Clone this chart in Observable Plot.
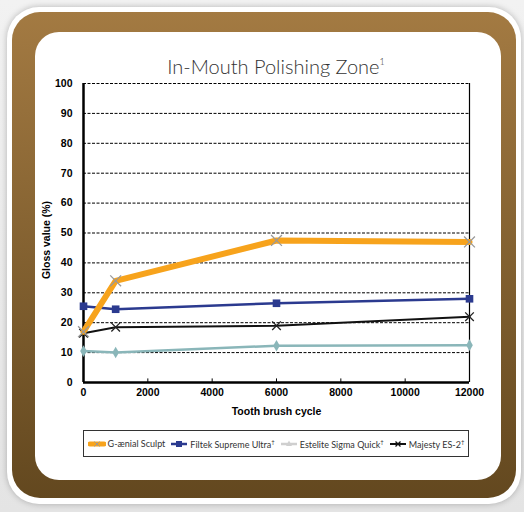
<!DOCTYPE html>
<html>
<head>
<meta charset="utf-8">
<script src="https://cdn.jsdelivr.net/npm/d3@7"></script>
<script src="https://cdn.jsdelivr.net/npm/@observablehq/plot@0.6"></script>
<style>
  html, body { margin: 0; padding: 0; background: #e9e9e9; }
  #wrap { position: relative; width: 524px; height: 512px; overflow: hidden; background: linear-gradient(#f2f2f2, #e4e4e4); }
  .outer { position: absolute; left: 7px; top: 7px; width: 514px; height: 497px; background: #fff; border-radius: 32px; box-shadow: 0 0 6px rgba(0,0,0,0.25); }
  .brown { position: absolute; left: 12px; top: 12px; width: 504px; height: 486px; border-radius: 28px; background: linear-gradient(#a37a42, #63481f); }
  .inner { position: absolute; left: 35px; top: 32px; width: 466px; height: 448px; border-radius: 24px; background: #fff; }
  #chart { position: absolute; left: 0; top: 0; }
  .title { position: absolute; left: 0; width: 552px; top: 54px; text-align: center; font-family: "Lato", "Open Sans", sans-serif; font-weight: 300; font-size: 20px; color: #333; }
  .title sup { font-size: 9px; vertical-align: 9px; }
  .ylabel { position: absolute; left: 46px; top: 240px; transform: translate(-50%, -50%) rotate(-90deg); font-family: "Liberation Sans", Arial, sans-serif; font-weight: bold; font-size: 10.5px; white-space: nowrap; color: #000; }
  .legend { position: absolute; left: 83px; top: 430px; width: 384px; height: 25px; border: 1.5px solid #333; box-sizing: content-box; display: flex; align-items: center; justify-content: center; gap: 5px; font-family: "Lato", "Open Sans", sans-serif; font-size: 9px; color: #333; }
  .legend .item { display: flex; align-items: center; gap: 2px; white-space: nowrap; }
  .legend sup { font-size: 6px; vertical-align: 4px; }
</style>
</head>
<body>
<div id="wrap">
  <div class="outer"></div>
  <div class="brown"></div>
  <div class="inner"></div>
  <div id="chart"></div>
  <div class="title">In-Mouth Polishing Zone<sup>1</sup></div>
  <div class="ylabel">Gloss value (%)</div>
  <div class="legend" id="legend"></div>
</div>
<script>
// ---- data ----
const cycles = [0, 1000, 6000, 12000];
const seriesNames = ["G-ænial Sculpt", "Filtek Supreme Ultra", "Estelite Sigma Quick", "Majesty ES-2"];
const seriesDagger = [false, true, true, true];
const gaenialValues = [17, 34, 47.5, 47];
const filtekValues = [25.5, 24.5, 26.5, 28];
const esteliteValues = [10.5, 10, 12.3, 12.5];
const majestyValues = [16.5, 18.5, 19, 22];
const xTicks = [0, 2000, 4000, 6000, 8000, 10000, 12000];
const yTicks = [0, 10, 20, 30, 40, 50, 60, 70, 80, 90, 100];
const gridTicks = [10, 20, 30, 40, 50, 60, 70, 80, 90, 100];

const lineColors = ["#f7a31c", "#2b3a8f", "#8ab6b9", "#111111"];
const legendColors = ["#f7a31c", "#2b3a8f", "#cfcfcf", "#111111"];

const allValues = [gaenialValues, filtekValues, esteliteValues, majestyValues];
const rows = (i) => cycles.map((c, j) => ({cycle: c, value: allValues[i][j], series: seriesNames[i]}));

const chart = Plot.plot({
  width: 524,
  height: 512,
  marginLeft: 83,
  marginRight: 55,
  marginTop: 83,
  marginBottom: 130,
  style: {background: "transparent", fontFamily: "'Liberation Sans', Arial, sans-serif", fontSize: "10.5px", fontWeight: "bold", color: "#000"},
  x: {domain: [0, 12000]},
  y: {domain: [0, 100]},
  marks: [
    Plot.ruleY(gridTicks, {stroke: "#000", strokeWidth: 1, strokeDasharray: "3,1.5"}),
    Plot.ruleX([12000], {stroke: "#000", strokeWidth: 1.2}),
    Plot.ruleX(xTicks.slice(1, -1), {y1: 0, y2: 1.2, stroke: "#000", strokeWidth: 1}),
    Plot.ruleX([0], {stroke: "#000", strokeWidth: 2.5}),
    Plot.ruleY([0], {stroke: "#000", strokeWidth: 2.5}),
    Plot.axisX({ticks: xTicks, tickFormat: d => String(d), tickSize: 0, tickPadding: 6, label: "Tooth brush cycle", labelAnchor: "center", labelArrow: false, labelOffset: 32, fontWeight: "bold"}),
    Plot.axisY({ticks: yTicks, tickFormat: d => String(d), tickSize: 0, tickPadding: 11, label: null, fontWeight: "bold"}),
    // Estelite
    Plot.line(rows(2), {x: "cycle", y: "value", stroke: lineColors[2], strokeWidth: 2.5}),
    Plot.dot(rows(2), {x: "cycle", y: "value", symbol: "diamond", r: 3.5, fill: lineColors[2]}),
    // Majesty
    Plot.line(rows(3), {x: "cycle", y: "value", stroke: lineColors[3], strokeWidth: 2}),
    Plot.dot(rows(3), {x: "cycle", y: "value", symbol: "times", r: 4, stroke: "#222", strokeWidth: 1.3}),
    // Filtek
    Plot.line(rows(1), {x: "cycle", y: "value", stroke: lineColors[1], strokeWidth: 2.5}),
    Plot.dot(rows(1), {x: "cycle", y: "value", symbol: "square", r: 4.3, fill: lineColors[1]}),
    // G-aenial
    Plot.line(rows(0), {x: "cycle", y: "value", stroke: lineColors[0], strokeWidth: 6}),
    Plot.dot(rows(0), {x: "cycle", y: "value", symbol: "times", r: 5, stroke: "#999", strokeWidth: 1.3})
  ]
});
document.getElementById("chart").appendChild(chart);

// ---- legend ----
const markerPaths = [
  (c) => `<line x1="2" y1="4" x2="16" y2="4" stroke="${c}" stroke-width="5" stroke-linecap="round"/><path d="M6.5,1.5L11.5,6.5M11.5,1.5L6.5,6.5" stroke="#999" stroke-width="1"/>`,
  (c) => `<line x1="1" y1="4" x2="17" y2="4" stroke="${c}" stroke-width="2.5"/><rect x="6" y="1" width="6" height="6" fill="${c}"/>`,
  (c) => `<line x1="1" y1="4" x2="17" y2="4" stroke="${c}" stroke-width="2.5"/><path d="M9,0.5L12,6L6,6Z" fill="${c}"/>`,
  (c) => `<line x1="1" y1="4" x2="17" y2="4" stroke="${c}" stroke-width="2"/><path d="M6.5,1.5L11.5,6.5M11.5,1.5L6.5,6.5" stroke="${c}" stroke-width="1.3"/>`
];
const legend = document.getElementById("legend");
seriesNames.forEach((name, i) => {
  const item = document.createElement("div");
  item.className = "item";
  item.innerHTML = `<svg width="18" height="8">${markerPaths[i](legendColors[i])}</svg><span>${name}${seriesDagger[i] ? "<sup>†</sup>" : ""}</span>`;
  legend.appendChild(item);
});
</script>
</body>
</html>
